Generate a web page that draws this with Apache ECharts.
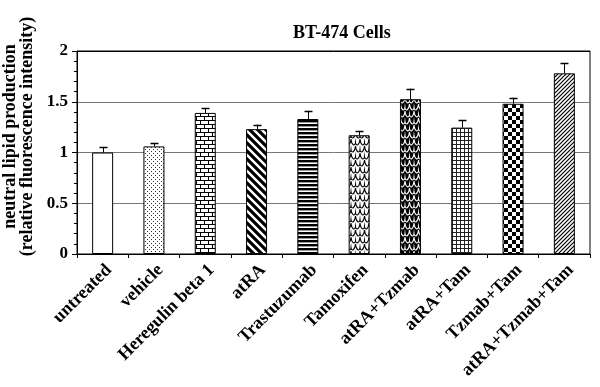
<!DOCTYPE html>
<html>
<head>
<meta charset="utf-8">
<script src="https://cdn.jsdelivr.net/npm/echarts@6/dist/echarts.min.js"></script>
<style>html,body{margin:0;padding:0;background:#fff}#c{width:600px;height:387px}</style>
</head>
<body>
<div id="c"></div>
<script>
const categories = ['untreated','vehicle','Heregulin beta 1','atRA','Trastuzumab','Tamoxifen','atRA+Tzmab','atRA+Tam','Tzmab+Tam','atRA+Tzmab+Tam'];
const values = [1.00, 1.06, 1.39, 1.23, 1.33, 1.17, 1.525, 1.245, 1.48, 1.78];
const errors = [0.055, 0.03, 0.045, 0.045, 0.08, 0.04, 0.105, 0.075, 0.06, 0.10];
const yTicks = [0, 0.5, 1, 1.5, 2];

function mk(w, h, draw) {
  const c = document.createElement('canvas');
  c.width = w; c.height = h;
  const g = c.getContext('2d');
  g.fillStyle = '#fff'; g.fillRect(0, 0, w, h);
  g.fillStyle = '#000'; g.strokeStyle = '#000';
  draw(g);
  return {image: c, repeat: 'repeat'};
}
function scales(g) {
  g.lineWidth = 1.1; g.beginPath();
  for (let r = 0; r < 3; r++) {
    const y = r * 7 - 1, off = (r % 2) * 4.5;
    for (let k = -1; k <= 2; k++) {
      const x = k * 9 + off;
      g.moveTo(x, y);
      g.bezierCurveTo(x + 0.5, y + 6, x + 4, y + 8, x + 4.5, y + 3.5);
      g.bezierCurveTo(x + 5, y + 8, x + 8.5, y + 6, x + 9, y);
    }
  }
  g.stroke();
}
const patterns = [
  '#fff',
  mk(4, 4, g => { g.fillStyle = '#333'; g.fillRect(1, 1, 1, 1); g.fillRect(3, 3, 1, 1); }),
  mk(8, 8, g => { g.fillRect(0, 0, 8, 1); g.fillRect(0, 4, 8, 1); g.fillRect(0, 0, 1, 4); g.fillRect(4, 4, 1, 4); }),
  mk(8, 8, g => { g.lineWidth = 3.2; g.beginPath();
    for (let k = -2; k <= 2; k++) { g.moveTo(k * 8 - 1, -1); g.lineTo(k * 8 + 9, 9); } g.stroke(); }),
  mk(4, 4, g => { g.fillRect(0, 0, 4, 2.4); }),
  mk(9, 14, g => { scales(g); }),
  mk(9, 14, g => { g.fillRect(0, 0, 9, 14); g.strokeStyle = '#fff'; scales(g); }),
  mk(4, 4, g => { g.fillStyle = '#222'; g.fillRect(0, 0, 4, 1); g.fillRect(0, 0, 1, 4); }),
  mk(8, 8, g => { g.fillRect(0, 0, 4, 4); g.fillRect(4, 4, 4, 4); }),
  mk(4, 4, g => { g.lineWidth = 1.2; g.beginPath();
    for (let k = -1; k <= 2; k++) { g.moveTo(k * 4 - 1, 5); g.lineTo(k * 4 + 5, -1); } g.stroke(); })
];

const font = '"Liberation Serif", "Times New Roman", serif';
const chart = echarts.init(document.getElementById('c'), null, {renderer: 'canvas'});
chart.setOption({
  animation: false,
  title: {
    text: 'BT-474 Cells', left: 288, top: 19,
    textStyle: {fontFamily: font, fontWeight: 'bold', fontSize: 18, color: '#000'}
  },
  grid: {left: 77, right: 10, top: 51, bottom: 133, show: true, borderColor: '#000', borderWidth: 1,
         containLabel: false, outerBoundsMode: 'none'},
  xAxis: {
    type: 'category', data: categories,
    axisLine: {lineStyle: {color: '#000', width: 1}},
    axisTick: {show: true, length: 4, lineStyle: {color: '#000'}},
    axisLabel: {rotate: 45, interval: 0, margin: 7, verticalAlign: 'top', fontFamily: font, fontWeight: 'bold', fontSize: 18, color: '#000'}
  },
  yAxis: {
    type: 'value', min: yTicks[0], max: yTicks[yTicks.length - 1], interval: 0.5,
    name: 'neutral lipid production\n(relative fluorescence intensity)',
    nameLocation: 'middle', nameRotate: 90, nameGap: 38,
    nameTextStyle: {fontFamily: font, fontWeight: 'bold', fontSize: 18, lineHeight: 16.5, color: '#000', padding: [0, 0, 0, 32]},
    axisLine: {show: true, lineStyle: {color: '#000', width: 1}},
    axisTick: {show: true, length: 5, lineStyle: {color: '#000'}},
    minorTick: {show: true, splitNumber: 5, length: 3, lineStyle: {color: '#000'}},
    axisLabel: {margin: 9, fontFamily: font, fontWeight: 'bold', fontSize: 17, color: '#000'},
    splitLine: {show: true, lineStyle: {color: ['#000', '#777', '#777', '#777', '#000'], width: 1}}
  },
  series: [
    {
      type: 'bar', barWidth: 21,
      data: values.map((v, i) => ({value: v, itemStyle: {color: patterns[i]}})),
      itemStyle: {borderColor: '#000', borderWidth: 1},
      z: 3
    },
    {
      type: 'custom',
      data: values.map((v, i) => [i, v, errors[i]]),
      renderItem: function (params, api) {
        const i = api.value(0), v = api.value(1), e = api.value(2);
        const p0 = api.coord([i, v]);
        const p1 = api.coord([i, v + e]);
        const x = Math.round(p0[0]) + 0.5;
        return {
          type: 'group',
          children: [
            {type: 'line', shape: {x1: x, y1: p0[1], x2: x, y2: p1[1]}, style: {stroke: '#000', lineWidth: 1}},
            {type: 'line', shape: {x1: x - 4, y1: Math.round(p1[1]) + 0.5, x2: x + 4, y2: Math.round(p1[1]) + 0.5}, style: {stroke: '#000', lineWidth: 1.5}}
          ]
        };
      },
      z: 4
    }
  ]
});
</script>
</body>
</html>
